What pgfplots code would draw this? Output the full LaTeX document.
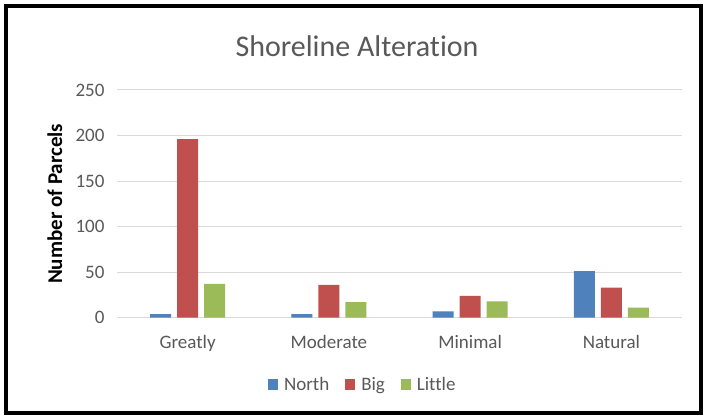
\documentclass[border=0pt]{standalone}
\usepackage{pgfplots}
\pgfplotsset{compat=1.18}
\usepackage{fontspec}
\setmainfont{Carlito}[Ligatures={NoCommon}]
\definecolor{cNorth}{HTML}{4F81BD}
\definecolor{cBig}{HTML}{C0504D}
\definecolor{cLittle}{HTML}{9BBB59}
\definecolor{txtgray}{HTML}{595959}
\definecolor{gridgray}{HTML}{D9D9D9}
\begin{document}
\begin{tikzpicture}
\useasboundingbox (0,0) rectangle (705pt,419pt);
\fill[white] (0,0) rectangle (705pt,419pt);
\draw[black, line width=4pt] (6pt,6pt) rectangle (701pt,413pt);
\node[text=txtgray, font=\fontsize{30}{34}\selectfont] at (357pt,373pt) {Shoreline Alteration};
\begin{axis}[
  at={(117pt,101.3pt)}, anchor=south west,
  scale only axis, width=565pt, height=227.7pt,
  ybar=6pt, bar width=21pt,
  xmin=-0.5, xmax=3.5, ymin=0, ymax=250,
  xtick=data, xticklabels={Greatly,Moderate,Minimal,Natural},
  ytick={0,50,100,150,200,250},
  ymajorgrids, grid style={gridgray, line width=1pt},
  axis x line*=bottom, axis y line*=left,
  x axis line style={gridgray, line width=1pt, -},
  y axis line style={draw=none},
  major tick length=0pt,
  tick label style={text=txtgray, font=\fontsize{19}{22}\selectfont},
  /pgf/number format/assume math mode=true,
  yticklabel style={xshift=-9pt},
  xticklabel style={yshift=-14pt},
  ylabel={\textbf{Number of Parcels}},
  ylabel style={font=\fontsize{21}{24}\selectfont, text=black, at={(axis description cs:-0.11,0.5)}, anchor=center},
  legend columns=3,
  legend style={draw=none, at={(0.435,-0.295)}, anchor=center, font=\fontsize{19}{22}\selectfont, text=txtgray, column sep=0pt, inner sep=0pt,
    /tikz/every odd column/.append style={column sep=4pt},
    /tikz/every even column/.append style={column sep=14pt}},
  legend image code/.code={\fill[#1] (0pt,-5pt) rectangle (10pt,6pt);},
]
\addplot[fill=cNorth, draw=none] coordinates {(0,4) (1,4) (2,7) (3,51)};
\addplot[fill=cBig, draw=none] coordinates {(0,196) (1,36) (2,24) (3,33)};
\addplot[fill=cLittle, draw=none] coordinates {(0,37) (1,17) (2,18) (3,11)};
\legend{North,Big,Little}
\end{axis}
\end{tikzpicture}
\end{document}
